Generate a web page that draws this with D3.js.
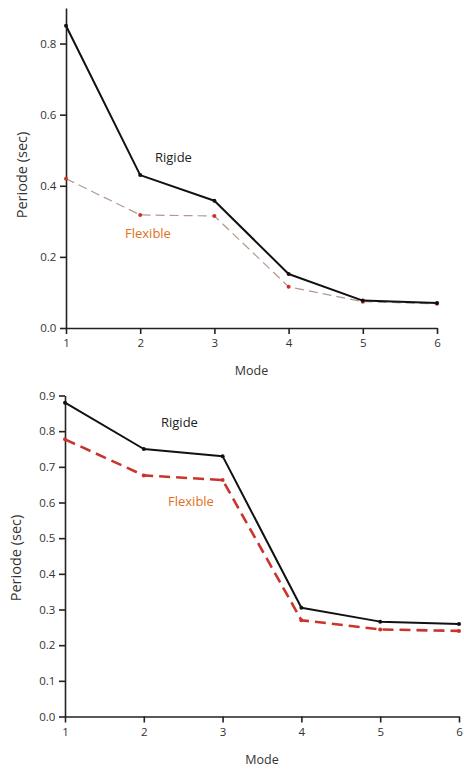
<!DOCTYPE html>
<html>
<head>
<meta charset="utf-8">
<script src="https://cdn.jsdelivr.net/npm/d3@7"></script>
<style>
  body { margin: 0; background: #fff; }
  svg { display: block; }
  .axis text { font-family: "Open Sans", "Noto Sans", sans-serif; font-size: 11.5px; fill: #333; }
  .axis path, .axis line { stroke: #222; }
</style>
</head>
<body>
<div id="chart"></div>
<script>
// modes on the x axis
var modes = [1, 2, 3, 4, 5, 6];

// top chart
var rigideTop = [0.85, 0.43, 0.358, 0.152, 0.077, 0.07];
var flexibleTop = [0.42, 0.318, 0.315, 0.116, 0.074, 0.068];
var yTicksTop = [0, 0.2, 0.4, 0.6, 0.8];

// bottom chart
var rigideBottom = [0.88, 0.75, 0.73, 0.305, 0.266, 0.259];
var flexibleBottom = [0.777, 0.676, 0.663, 0.27, 0.244, 0.24];
var yTicksBottom = [0, 0.1, 0.2, 0.3, 0.4, 0.5, 0.6, 0.7, 0.8, 0.9];

var W = 464, H = 769;
var font = '"Open Sans", "Noto Sans", sans-serif';

let svg = d3.select("#chart").append("svg").attr("width", W).attr("height", H);

function drawChart(opt) {
  let g = svg.append("g");
  let x = d3.scaleLinear().domain([1, 6]).range([opt.left, opt.right]);
  let y = d3.scaleLinear().domain([0, 0.9]).range([opt.bottom, opt.top]);

  // axes
  g.append("g")
    .attr("class", "axis")
    .attr("transform", "translate(0," + opt.bottom + ")")
    .call(d3.axisBottom(x).tickValues(modes).tickFormat(d3.format("d")).tickSize(6).tickSizeOuter(0))
    .call(a => a.selectAll("path,line").attr("stroke-width", 1.6))
    .call(a => a.selectAll("text").attr("dy", "0.9em"));

  g.append("g")
    .attr("class", "axis")
    .attr("transform", "translate(" + opt.left + ",0)")
    .call(d3.axisLeft(y).tickValues(opt.yTicks).tickFormat(d3.format(".1f")).tickSize(6).tickSizeOuter(0))
    .call(a => a.selectAll("path,line").attr("stroke-width", 1.6))
    .call(a => a.selectAll("text").attr("dx", "-0.05em"));

  let line = d3.line().x((d, i) => x(modes[i])).y(d => y(d));

  // flexible (dashed)
  g.append("path")
    .datum(opt.flexible)
    .attr("d", line)
    .attr("fill", "none")
    .attr("stroke", opt.flexColor)
    .attr("stroke-width", opt.flexWidth)
    .attr("stroke-dasharray", opt.flexDash);

  // rigide (solid)
  g.append("path")
    .datum(opt.rigide)
    .attr("d", line)
    .attr("fill", "none")
    .attr("stroke", "#111")
    .attr("stroke-width", 2)
    .attr("stroke-linejoin", "round");

  g.selectAll(".pf")
    .data(opt.flexible)
    .enter()
    .append("circle")
    .attr("cx", (d, i) => x(modes[i]))
    .attr("cy", d => y(d))
    .attr("r", 2)
    .attr("fill", "#d0302a");

  g.selectAll(".pr")
    .data(opt.rigide)
    .enter()
    .append("circle")
    .attr("cx", (d, i) => x(modes[i]))
    .attr("cy", d => y(d))
    .attr("r", 2)
    .attr("fill", "#111");

  // series labels
  g.append("text")
    .attr("x", opt.rigLabel[0]).attr("y", opt.rigLabel[1])
    .attr("font-family", font).attr("font-size", "13px")
    .attr("fill", "#222")
    .text("Rigide");

  g.append("text")
    .attr("x", opt.flexLabel[0]).attr("y", opt.flexLabel[1])
    .attr("font-family", font).attr("font-size", "13px")
    .attr("fill", "#e07020")
    .text("Flexible");

  // axis titles
  g.append("text")
    .attr("x", (opt.left + opt.right) / 2)
    .attr("y", opt.bottom + 47)
    .attr("text-anchor", "middle")
    .attr("font-family", font).attr("font-size", "12.5px")
    .attr("fill", "#333")
    .text("Mode");

  g.append("text")
    .attr("transform", "translate(" + opt.yTitleX + "," + opt.yTitleY + ") rotate(-90)")
    .attr("text-anchor", "middle")
    .attr("font-family", font).attr("font-size", "14.5px")
    .attr("fill", "#333")
    .text("Periode (sec)");
}

drawChart({
  left: 66, right: 437, top: 8, bottom: 328,
  yTicks: yTicksTop,
  rigide: rigideTop, flexible: flexibleTop,
  flexColor: "#b09a90", flexWidth: 1.2, flexDash: "9,5",
  rigLabel: [155, 162], flexLabel: [125, 238],
  yTitleX: 27, yTitleY: 175
});

drawChart({
  left: 65, right: 459, top: 395.5, bottom: 716.5,
  yTicks: yTicksBottom,
  rigide: rigideBottom, flexible: flexibleBottom,
  flexColor: "#c8352c", flexWidth: 2.6, flexDash: "11,6",
  rigLabel: [161, 427], flexLabel: [168, 506],
  yTitleX: 21, yTitleY: 558
});
</script>
</body>
</html>
